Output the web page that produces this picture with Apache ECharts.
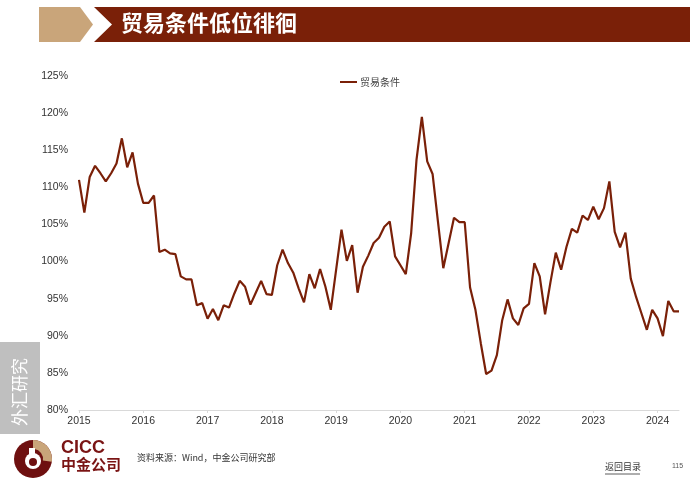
<!DOCTYPE html>
<html>
<head>
<meta charset="utf-8">
<script src="https://cdn.jsdelivr.net/npm/echarts@6/dist/echarts.min.js"></script>
<style>
html,body{margin:0;padding:0;background:#fff;}
#c{width:700px;height:490px;}
</style>
</head>
<body>
<div id="c"></div>
<script>
const title = '贸易条件低位徘徊';
const seriesName = '贸易条件';
const yearLabels = ['2015','2016','2017','2018','2019','2020','2021','2022','2023','2024'];
const months = [];
for (let y = 2015; y <= 2024; y++) {
  for (let m = 1; m <= 12; m++) {
    if (y === 2024 && m > 5) break;
    months.push(y + '-' + (m < 10 ? '0' + m : m));
  }
}
const tot = [
  111.0,106.6,111.4,112.9,111.9,110.8,111.9,113.2,116.6,112.7,114.7,110.5,
  107.9,107.9,108.9,101.3,101.6,101.1,101.0,98.0,97.6,97.6,94.1,94.4,
  92.3,93.6,92.1,94.1,93.8,95.7,97.4,96.6,94.2,95.8,97.4,95.6,
  95.5,99.5,101.6,99.8,98.5,96.4,94.5,98.3,96.4,99.0,96.6,93.5,
  98.9,104.3,100.1,102.2,95.8,99.3,100.8,102.5,103.2,104.7,105.4,100.7,
  99.5,98.3,103.8,113.7,119.5,113.5,111.8,105.4,99.1,102.5,105.9,105.3,
  105.3,96.5,93.5,89.0,84.85,85.3,87.4,92.1,94.9,92.35,91.45,93.7,
  94.3,99.8,98.0,92.9,97.2,101.2,98.9,102.0,104.4,103.9,106.2,105.6,
  107.4,105.7,107.2,110.8,104.0,101.9,103.9,97.7,95.2,93.0,90.8,93.5,
  92.35,89.95,94.7,93.3,93.3
];
const yTicks = [80,85,90,95,100,105,110,115,120,125];

const brown = '#7A2008';
const tan = '#C9A57A';
const chart = echarts.init(document.getElementById('c'), null, {renderer:'canvas'});
chart.setOption({
  animation:false,
  backgroundColor:'#fff',
  grid:{left:79, right:21, top:76, bottom:80},
  legend:{
    data:[seriesName], top:72, left:335,
    itemWidth:17, itemHeight:2, icon:'rect', itemGap:4,
    textStyle:{fontSize:10, color:'#444', fontFamily:'Noto Sans CJK SC', padding:[0,0,0,-2]}
  },
  xAxis:{
    type:'category', data:months, boundaryGap:false,
    axisLine:{lineStyle:{color:'#D9D9D9', width:1}},
    axisTick:{show:true, length:3, lineStyle:{color:'#D9D9D9'}, interval:(i)=>i%12===0},
    axisLabel:{
      interval:(i)=>i%12===0,
      formatter:(v)=>{ const y=v.slice(0,4); return yearLabels.indexOf(y)>=0 ? y : ''; },
      color:'#333', fontSize:10.5, fontFamily:'Liberation Sans, Arial', margin:6
    },
    splitLine:{show:false}
  },
  yAxis:{
    type:'value', min:yTicks[0], max:yTicks[yTicks.length-1], interval:5,
    axisLine:{show:false}, axisTick:{show:false}, splitLine:{show:false},
    axisLabel:{formatter:'{value}%', color:'#333', fontSize:10.5, fontFamily:'Liberation Sans, Arial', margin:11}
  },
  series:[{
    name:seriesName, type:'line', data:tot, symbol:'none',
    lineStyle:{color:brown, width:2.2}, itemStyle:{color:brown}
  }],
  graphic:[
    {type:'polygon', shape:{points:[[39,7],[80,7],[93,24.5],[80,42],[39,42]]}, style:{fill:tan}},
    {type:'polygon', shape:{points:[[94,7],[690,7],[690,42],[94,42],[112,24.5]]}, style:{fill:brown}},
    {type:'text', left:121, top:12, style:{text:title, fill:'#fff', font:'bold 22px "Noto Sans CJK SC"'}},
    {type:'rect', shape:{x:0, y:342, width:40, height:92}, style:{fill:'#BFBFBF'}},
    {type:'text', x:20, y:392, rotation:Math.PI/2, style:{text:'外汇研究', fill:'#fff', font:'17px "Noto Sans CJK SC"', align:'center', verticalAlign:'middle'}},
    // logo
    {type:'circle', shape:{cx:33, cy:459, r:19}, style:{fill:'#6E1010'}},
    {type:'sector', shape:{cx:33, cy:459, r:19, r0:10, startAngle:-Math.PI/2, endAngle:0.15}, style:{fill:tan}},
    {type:'circle', shape:{cx:33, cy:461, r:8}, style:{fill:'#fff'}},
    {type:'circle', shape:{cx:33, cy:462, r:4}, style:{fill:'#6E1010'}},
    {type:'rect', shape:{x:29, y:448, width:6, height:8}, style:{fill:'#fff'}},
    {type:'text', left:61, top:439, style:{text:'CICC', fill:'#7A1414', font:'bold 18px "Liberation Sans", Arial'}},
    {type:'text', left:61, top:457, style:{text:'中金公司', fill:'#7A1414', font:'bold 15px "Noto Sans CJK SC"'}},
    {type:'text', left:137, top:453, style:{text:'资料来源：Wind，中金公司研究部', fill:'#333', font:'9px "Noto Sans CJK SC"'}},
    {type:'text', left:605, top:462, style:{text:'返回目录', fill:'#333', font:'9px "Noto Sans CJK SC"'}},
    {type:'line', shape:{x1:605, y1:474, x2:640, y2:474}, style:{stroke:'#333', lineWidth:0.8}},
    {type:'text', left:672, top:463, style:{text:'115', fill:'#555', font:'7px "Liberation Sans", Arial'}}
  ]
});
</script>
</body>
</html>
